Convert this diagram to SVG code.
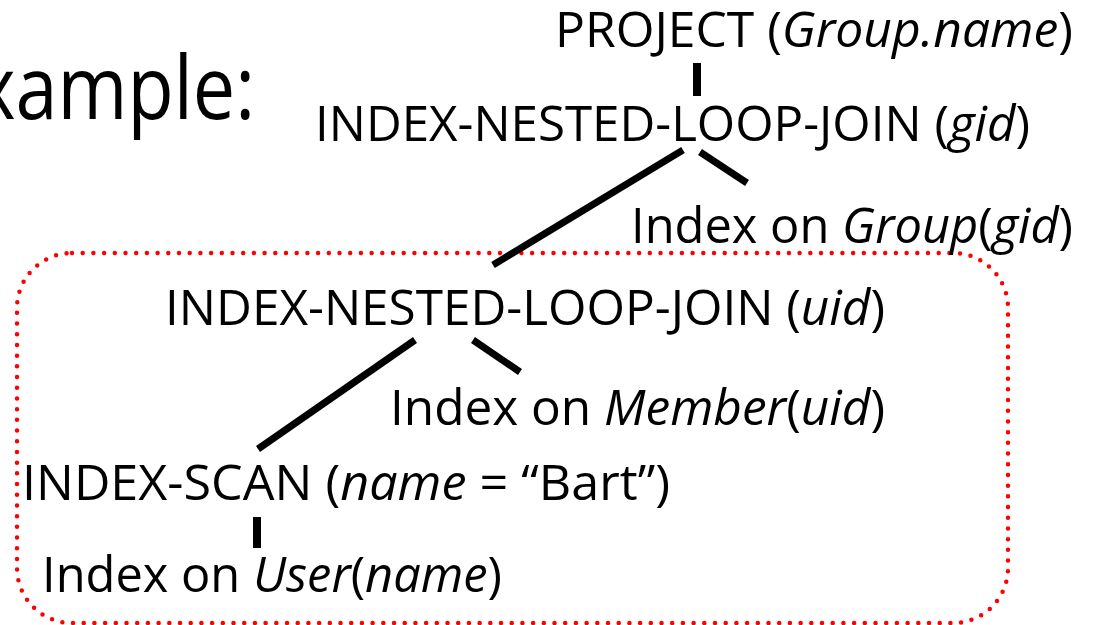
<svg xmlns="http://www.w3.org/2000/svg" width="1095" height="625" viewBox="0 0 1095 625">
<style>
text{font-family:"Open Sans","Noto Sans","Liberation Sans",sans-serif;font-size:50px;fill:#000}
.i{font-style:italic}
.edge{stroke:#000;fill:none;stroke-linecap:butt}
</style>
<rect width="1095" height="625" fill="#fff"/>
<g id="title"><text x="-24" y="119" style="font-size:88px" textLength="279" lengthAdjust="spacingAndGlyphs">xample:</text></g>
<g id="region"><rect x="17" y="253" width="991" height="370" rx="55" ry="55" fill="none" stroke="#ff0000" stroke-width="4.5" stroke-linecap="round" stroke-dasharray="0 10.7"/></g>
<g id="connectors">
<line class="edge" x1="697" y1="63" x2="697" y2="96" stroke-width="8"/>
<line class="edge" x1="683" y1="150" x2="493" y2="265" stroke-width="7"/>
<line class="edge" x1="700" y1="152" x2="747" y2="183" stroke-width="7"/>
<line class="edge" x1="415" y1="340" x2="258" y2="449" stroke-width="7"/>
<line class="edge" x1="473" y1="340" x2="520" y2="372" stroke-width="7"/>
<line class="edge" x1="257" y1="517" x2="257" y2="548" stroke-width="8"/>
</g>
<g id="project"><text x="555" y="47" textLength="518" lengthAdjust="spacingAndGlyphs">PROJECT (<tspan class="i">Group.name</tspan>)</text></g>
<g id="inlj-gid"><text x="315" y="141" textLength="715" lengthAdjust="spacingAndGlyphs">INDEX-NESTED-LOOP-JOIN (<tspan class="i">gid</tspan>)</text></g>
<g id="idx-group"><text x="631" y="243" textLength="442" lengthAdjust="spacingAndGlyphs">Index on <tspan class="i">Group</tspan>(<tspan class="i">gid</tspan>)</text></g>
<g id="inlj-uid"><text x="165" y="325" textLength="720" lengthAdjust="spacingAndGlyphs">INDEX-NESTED-LOOP-JOIN (<tspan class="i">uid</tspan>)</text></g>
<g id="idx-member"><text x="390" y="425" textLength="495" lengthAdjust="spacingAndGlyphs">Index on <tspan class="i">Member</tspan>(<tspan class="i">uid</tspan>)</text></g>
<g id="index-scan"><text x="22" y="500" textLength="648" lengthAdjust="spacingAndGlyphs">INDEX-SCAN (<tspan class="i">name</tspan> = “Bart”)</text></g>
<g id="idx-user"><text x="42" y="592" textLength="460" lengthAdjust="spacingAndGlyphs">Index on <tspan class="i">User</tspan>(<tspan class="i">name</tspan>)</text></g>
</svg>
